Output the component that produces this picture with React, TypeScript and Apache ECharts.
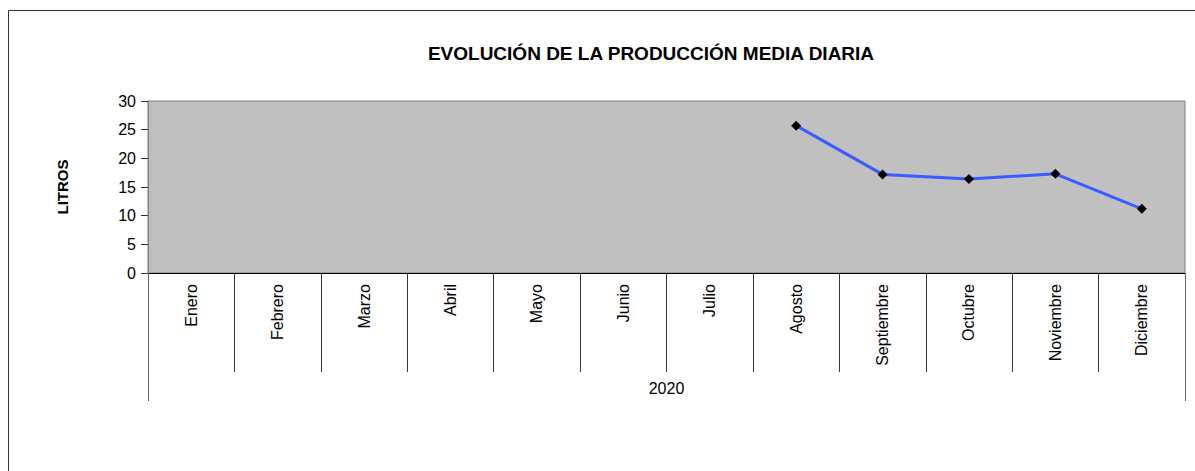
import React, { useEffect, useRef } from "react";
import * as echarts from "echarts";

const months = ["Enero", "Febrero", "Marzo", "Abril", "Mayo", "Junio", "Julio", "Agosto", "Septiembre", "Octubre", "Noviembre", "Diciembre"];
const production: (number | null)[] = [null, null, null, null, null, null, null, 25.7, 17.2, 16.4, 17.3, 11.2];
const yearGroup = ["2020"];
const titleText = "EVOLUCIÓN DE LA PRODUCCIÓN MEDIA DIARIA";
const yName = "LITROS";

const FONT = "'Liberation Sans', Arial, sans-serif";

export default function App() {
  const ref = useRef<HTMLDivElement>(null);
  useEffect(() => {
    if (!ref.current) return;
    const chart = echarts.init(ref.current, null, { renderer: "svg" });
    chart.setOption({
      animation: false,
      textStyle: { fontFamily: FONT },
      graphic: [
        {
          type: "rect",
          shape: { x: 8.5, y: 10.5, width: 1300, height: 600 },
          style: { fill: "none", stroke: "#333", lineWidth: 1 },
          silent: true,
        },
        {
          type: "text",
          x: 651,
          y: 53,
          style: {
            text: titleText,
            font: "bold 19px " + FONT,
            fill: "#000",
            align: "center",
            verticalAlign: "middle",
          },
        },
      ],
      grid: {
        left: 148,
        top: 101,
        right: 10,
        bottom: 198,
        show: true,
        backgroundColor: "#c0c0c0",
        borderColor: "#808080",
        borderWidth: 1,
        containLabel: false,
      },
      xAxis: [
        {
          type: "category",
          data: months,
          boundaryGap: true,
          axisLine: { show: true, lineStyle: { color: "#000", width: 1 } },
          axisTick: { show: true, interval: 0, length: 99, lineStyle: { color: "#333" } },
          axisLabel: {
            interval: 0,
            rotate: 90,
            fontSize: 16,
            color: "#000",
            margin: 11,
            fontFamily: FONT,
          },
          splitLine: { show: false },
        },
        {
          type: "category",
          data: yearGroup,
          position: "bottom",
          boundaryGap: true,
          axisLine: { show: false },
          axisTick: { show: true, interval: 0, length: 128, lineStyle: { color: "#666" } },
          axisLabel: {
            interval: 0,
            fontSize: 16,
            color: "#000",
            margin: 107,
            fontFamily: FONT,
          },
          splitLine: { show: false },
        },
      ],
      yAxis: {
        type: "value",
        min: 0,
        max: 30,
        interval: 5,
        name: yName,
        nameLocation: "middle",
        nameRotate: 90,
        nameGap: 78,
        nameTextStyle: { fontWeight: "bold", fontSize: 15, color: "#000", fontFamily: FONT },
        axisLine: { show: true, lineStyle: { color: "#808080", width: 1 } },
        axisTick: { show: true, length: 7, lineStyle: { color: "#333" } },
        axisLabel: { fontSize: 16, color: "#000", margin: 12, fontFamily: FONT },
        splitLine: { show: false },
      },
      series: [
        {
          type: "line",
          data: production,
          connectNulls: false,
          lineStyle: { color: "#3a5cff", width: 3 },
          itemStyle: { color: "#000" },
          symbol: "diamond",
          symbolSize: 10,
          xAxisIndex: 0,
        },
      ],
    });
    return () => chart.dispose();
  }, []);
  return (
    <div
      ref={ref}
      style={{ position: "absolute", left: 0, top: 0, width: 1195, height: 471, background: "#fff" }}
    />
  );
}
